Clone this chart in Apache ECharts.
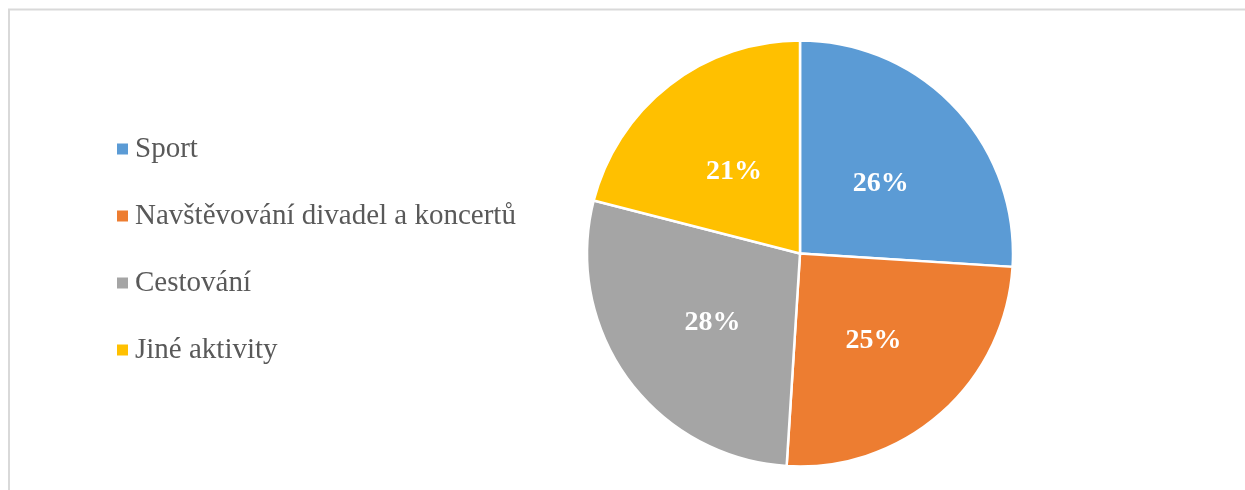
<!DOCTYPE html>
<html>
<head>
<meta charset="utf-8">
<script src="https://cdn.jsdelivr.net/npm/echarts@6/dist/echarts.min.js"></script>
<style>
  html, body { margin: 0; padding: 0; background: #fff; }
  #chart { width: 1245px; height: 490px; }
</style>
</head>
<body>
<div id="chart"></div>
<script>
// Leisure activities share (%)
const categories = ['Sport', 'Navštěvování divadel a koncertů', 'Cestování', 'Jiné aktivity'];
const shares = [26, 25, 28, 21];
const colors = ['#5B9BD5', '#ED7D31', '#A5A5A5', '#FFC000'];

const chart = echarts.init(document.getElementById('chart'));
const serif = '"Liberation Serif", "Times New Roman", serif';

chart.setOption({
  animation: false,
  color: colors,
  graphic: [
    { type: 'line', shape: { x1: 8, y1: 9.5, x2: 1245, y2: 9.5 }, style: { stroke: '#d9d9d9', lineWidth: 2 } },
    { type: 'line', shape: { x1: 9, y1: 9, x2: 9, y2: 490 }, style: { stroke: '#d9d9d9', lineWidth: 2 } }
  ],
  legend: {
    orient: 'vertical',
    left: 115,
    top: 133,
    padding: 0,
    icon: 'rect',
    itemWidth: 13,
    itemHeight: 13,
    itemGap: 35,
    textStyle: { fontFamily: serif, fontSize: 29, color: '#595959', lineHeight: 32, padding: [0, 0, 0, 1] },
    data: categories
  },
  series: [{
    type: 'pie',
    center: [800, 253.5],
    radius: 213,
    startAngle: 90,
    clockwise: true,
    itemStyle: { borderColor: '#fff', borderWidth: 2.5 },
    label: {
      position: 'inside',
      formatter: '{c}%',
      color: '#fff',
      fontFamily: serif,
      fontWeight: 'bold',
      fontSize: 28,
      offset: [1, 5]
    },
    labelLine: { show: false },
    emphasis: { disabled: true },
    data: categories.map((name, i) => ({ name, value: shares[i] }))
  }]
});
</script>
</body>
</html>
